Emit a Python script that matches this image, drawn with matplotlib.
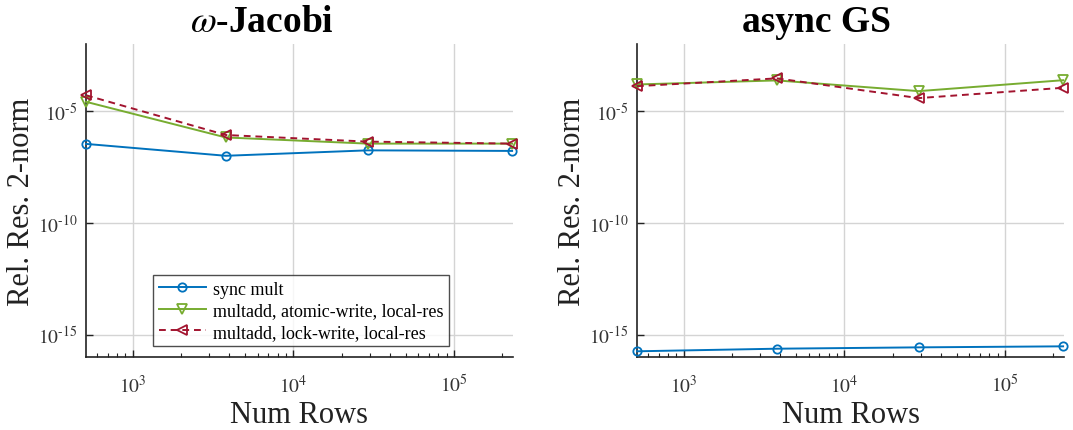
import numpy as np
import matplotlib
matplotlib.use("Agg")
import matplotlib.pyplot as plt
from matplotlib.ticker import LogLocator, FixedLocator, NullFormatter, FuncFormatter

plt.rcParams["font.family"] = ["Liberation Serif", "DejaVu Serif"]
plt.rcParams["mathtext.fontset"] = "stix"

# problem sizes
num_rows = [512, 3800, 29000, 230000]

# relative residual 2-norm, omega-Jacobi
jac_sync = [3.4e-7, 1.0e-7, 1.75e-7, 1.65e-7]
jac_atomic = [2.6e-5, 6.6e-7, 3.5e-7, 3.5e-7]
jac_lock = [5.1e-5, 8.5e-7, 4.3e-7, 3.5e-7]

# relative residual 2-norm, async Gauss-Seidel
gs_sync = [1.8e-16, 2.35e-16, 2.7e-16, 3.0e-16]
gs_atomic = [1.55e-4, 2.35e-4, 7.8e-5, 2.4e-4]
gs_lock = [1.3e-4, 2.9e-4, 3.8e-5, 1.1e-4]

labels = ["sync mult",
          "multadd, atomic-write, local-res",
          "multadd, lock-write, local-res"]

c_blue = (0.0, 0.447, 0.741)
c_green = (0.466, 0.674, 0.188)
c_red = (0.635, 0.078, 0.184)

W, H = 1073, 431
fig = plt.figure(figsize=(W / 100, H / 100), dpi=100)
ax1 = fig.add_axes([86 / W, (H - 358) / H, 427 / W, 313 / H])
ax2 = fig.add_axes([637 / W, (H - 358) / H, 427 / W, 313 / H])


def pow10(v, pos):
    e = int(round(np.log10(v)))
    if e < 0:
        return r"$10^{\text{-}%d}$" % (-e)
    return r"$10^{%d}$" % e


def draw(ax, sync, atomic, lock, title, title_x):
    style = dict(mfc="none", mew=1.3, lw=1.4, clip_on=False, zorder=3)
    ax.loglog(num_rows, sync, "-o", color=c_blue, ms=6, label=labels[0], **style)
    ax.loglog(num_rows, atomic, "-v", color=c_green, ms=7, label=labels[1], **style)
    ax.loglog(num_rows, lock, "--<", color=c_red, ms=7, label=labels[2],
              dashes=(3.5, 2.5), **style)
    ax.set_xlim(512, 233000)
    ax.set_ylim(1e-16, 1e-2)
    ax.yaxis.set_major_locator(FixedLocator([1e-15, 1e-10, 1e-5]))
    ax.yaxis.set_minor_locator(FixedLocator([]))
    ax.yaxis.set_major_formatter(FuncFormatter(pow10))
    ax.xaxis.set_major_locator(LogLocator(base=10))
    ax.xaxis.set_major_formatter(FuncFormatter(pow10))
    ax.xaxis.set_minor_locator(LogLocator(base=10, subs=np.arange(2, 10)))
    ax.xaxis.set_minor_formatter(NullFormatter())
    ax.grid(True, which="major", color="#d4d4d4", lw=1.0)
    ax.set_axisbelow(True)
    for s in ["top", "right"]:
        ax.spines[s].set_visible(False)
    for s in ["left", "bottom"]:
        ax.spines[s].set_color("#222222")
        ax.spines[s].set_linewidth(1.2)
    ax.tick_params(which="both", direction="in", labelsize=14, colors="#222222",
                   labelcolor="#333333")
    ax.tick_params(which="major", length=5, width=1.0)
    ax.tick_params(which="minor", length=3, width=0.8)
    ax.tick_params(axis="x", pad=12)
    ax.tick_params(axis="y", pad=6)
    ax.set_xlabel("Num Rows", fontsize=22, color="#222222")
    ax.xaxis.set_label_coords(0.5, -0.138)
    ax.set_ylabel("Rel. Res. 2-norm", fontsize=22, color="#222222")
    ax.yaxis.set_label_coords(-0.117, 0.5)
    ax.set_title(title, fontsize=27, fontweight="bold", x=title_x, pad=9)


draw(ax1, jac_sync, jac_atomic, jac_lock, r"$\omega$-Jacobi", 0.412)
draw(ax2, gs_sync, gs_atomic, gs_lock, "async GS", 0.42)

leg = ax1.legend(loc="lower left", bbox_to_anchor=(0.158, 0.035), fontsize=13,
                 frameon=True, fancybox=False, edgecolor="#222222",
                 borderpad=0.3, labelspacing=0.25, handlelength=2.6,
                 handletextpad=0.4, borderaxespad=0.0)
leg.get_frame().set_linewidth(1.0)

fig.savefig("out.png", dpi=100)
